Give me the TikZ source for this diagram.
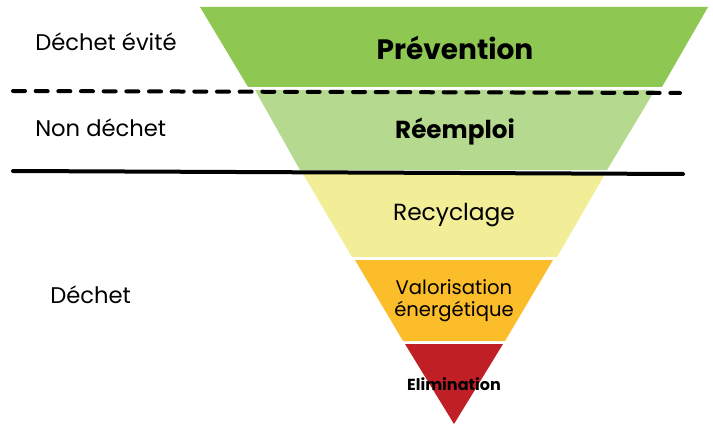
\documentclass[tikz,border=0pt]{standalone}
\usepackage{fontspec}
\setmainfont{Poppins}
\usepackage{tikz}

\definecolor{prevgreen}{HTML}{8FC753}
\definecolor{reuse}{HTML}{B5D98E}
\definecolor{recycle}{HTML}{F1EE97}
\definecolor{energy}{HTML}{FCBD2B}
\definecolor{elim}{HTML}{C11F26}

\begin{document}
\begin{tikzpicture}[x=0.75pt,y=-0.75pt,
  lbl/.style={anchor=west,inner sep=0pt,font=\fontsize{17}{20}\selectfont},
  band/.style={font=\fontsize{17.5}{20}\selectfont,align=center},
  sep/.style={line width=3pt,line cap=round}]
\useasboundingbox (0,0) rectangle (713,424);
% bands of the funnel
\fill[prevgreen] (200,7) -- (708,7) -- (662,87) -- (248,87) -- cycle;
\fill[reuse] (255,90) -- (655,90) -- (607,170) -- (300,170) -- cycle;
\fill[recycle] (303,174) -- (605,174) -- (557,257) -- (352,257) -- cycle;
\fill[energy] (355,260) -- (553,260) -- (505,341) -- (403,341) -- cycle;
\fill[elim] (405,344) -- (503,344) -- (454,424) -- cycle;
% separators
\coordinate (dashA) at (13,91);
\coordinate (dashB) at (680,93);
\coordinate (lineA) at (13,171);
\coordinate (lineB) at (683,174);
\draw[sep,dash pattern=on 9pt off 8pt] (dashA) -- (dashB);
\draw[sep] (lineA) -- (lineB);
% labels
\node[band,font=\fontsize{21}{25}\selectfont\bfseries] (prevention) at (455,48) {Prévention};
\node[band,font=\fontsize{18.5}{22}\selectfont\bfseries] (reemploi) at (455,131) {Réemploi};
\node[band] (recyclage) at (454,215) {Recyclage};
\node[band,font=\fontsize{14.7}{16.5}\selectfont] (valorisation) at (454,301) {Valorisation\\énergétique};
\node[band,font=\fontsize{12}{14}\selectfont\bfseries] (elimination) at (454,384) {Elimination};
\node[lbl] (evite) at (35,42) {Déchet évité};
\node[lbl] (nondechet) at (35,128) {Non déchet};
\node[lbl] (dechet) at (50,295) {Déchet};
\end{tikzpicture}
\end{document}
